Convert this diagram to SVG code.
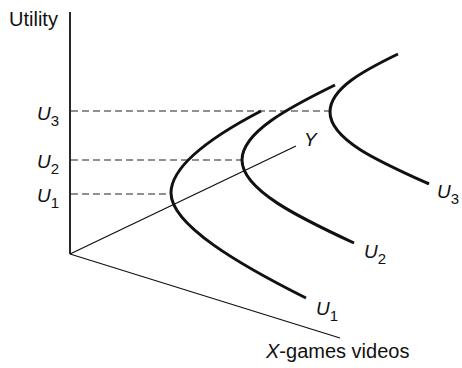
<svg xmlns="http://www.w3.org/2000/svg" width="462" height="368" viewBox="0 0 462 368">
<style>
.ax{stroke:#111;stroke-width:1.3;fill:none}
.dash{stroke:#222;stroke-width:1.1;stroke-dasharray:7,4;fill:none}
.cur{stroke:#111;stroke-width:3;fill:none;stroke-linecap:butt}
text{font-family:"Liberation Sans",Arial,sans-serif;fill:#111}
.lab{font-size:20px}
.u{font-size:19px;font-style:italic}
.sub{font-size:15px;font-style:normal}
</style>
<rect width="462" height="368" fill="#fff"/>
<g id="axes">
<line class="ax" x1="70" y1="12" x2="70" y2="254" style="stroke-width:1.8"/>
<line class="ax" x1="70" y1="254" x2="340" y2="338"/>
<line class="ax" x1="70" y1="254" x2="296" y2="146"/>
</g>
<g id="connectors">
<line class="dash" x1="71" y1="111" x2="331" y2="111"/>
<line class="dash" x1="71" y1="160" x2="242" y2="160"/>
<line class="dash" x1="71" y1="194" x2="171" y2="194"/>
</g>
<g id="curve-u1"><path class="cur" d="M261,111 C215,135 171,165 171,193 C171,225 240,265 306,298"/></g>
<g id="curve-u2"><path class="cur" d="M335,85 C290,107 242,132 242,160 C242,190 300,218 354,243"/></g>
<g id="curve-u3"><path class="cur" d="M398,54 C365,70 330,88 330,112 C330,140 380,162 429,184"/></g>
<g id="labels">
<text class="lab" x="9" y="26">Utility</text>
<text class="lab" x="266" y="358"><tspan font-style="italic">X</tspan>-games videos</text>
<text class="u" x="304" y="146">Y</text>
<text class="u" x="37" y="120">U<tspan class="sub" dy="6">3</tspan></text>
<text class="u" x="37" y="168">U<tspan class="sub" dy="6">2</tspan></text>
<text class="u" x="37" y="202">U<tspan class="sub" dy="6">1</tspan></text>
<text class="u" x="437" y="198">U<tspan class="sub" dy="6">3</tspan></text>
<text class="u" x="364" y="258">U<tspan class="sub" dy="6">2</tspan></text>
<text class="u" x="316" y="315">U<tspan class="sub" dy="6">1</tspan></text>
</g>
</svg>
